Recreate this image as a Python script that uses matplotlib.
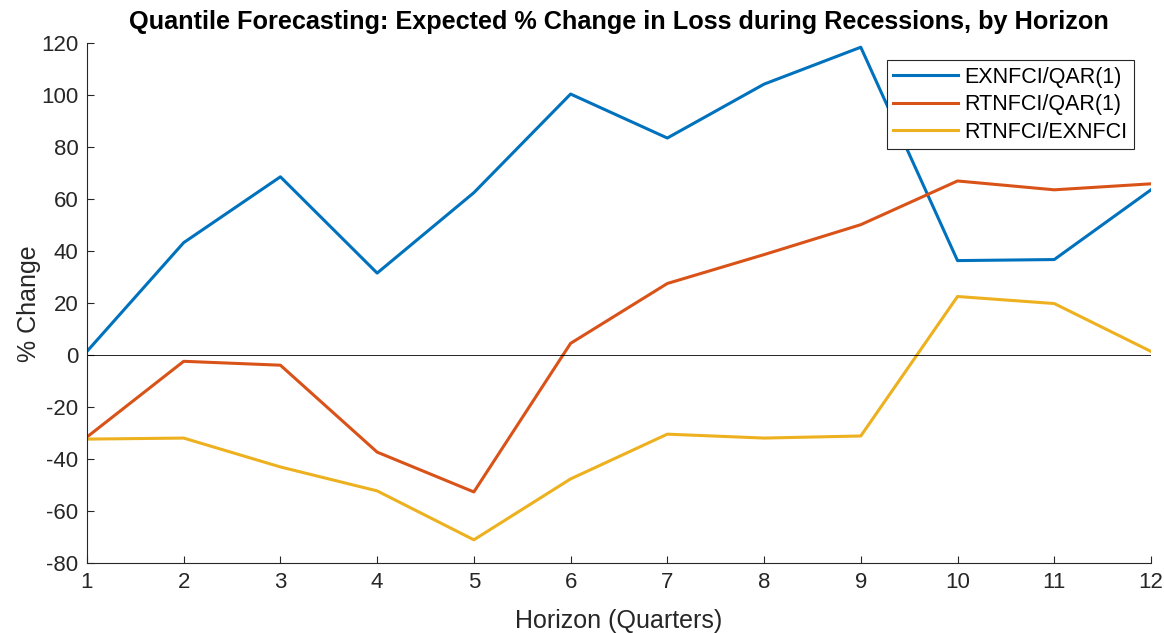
import matplotlib
matplotlib.use('Agg')
import matplotlib.pyplot as plt

plt.rcParams['font.family'] = ['Liberation Sans', 'DejaVu Sans']
plt.rcParams['axes.unicode_minus'] = False

# Data
horizon = [1, 2, 3, 4, 5, 6, 7, 8, 9, 10, 11, 12]
exnfci_qar = [1.5, 43.3, 68.6, 31.6, 62.5, 100.4, 83.5, 104.2, 118.4, 36.4, 36.8, 63.6]
rtnfci_qar = [-31.4, -2.3, -3.8, -37.2, -52.5, 4.6, 27.6, 38.7, 50.2, 67.0, 63.6, 65.9]
rtnfci_exnfci = [-32.2, -31.8, -42.9, -52.1, -70.9, -47.5, -30.3, -31.8, -31.0, 22.6, 19.9, 1.5]

labels = ['EXNFCI/QAR(1)', 'RTNFCI/QAR(1)', 'RTNFCI/EXNFCI']
colors = ['#0072BD', '#D95319', '#EDB120']

fig = plt.figure(figsize=(11.64, 6.33), dpi=100)
ax = fig.add_axes([0.0747, 0.1098, 0.9141, 0.8222])

for y, lab, c in zip([exnfci_qar, rtnfci_qar, rtnfci_exnfci], labels, colors):
    ax.plot(horizon, y, color=c, linewidth=2.2, label=lab)

ax.axhline(0, color='black', linewidth=0.6)

ax.set_xlim(1, 12)
ax.set_ylim(-80, 120)
ax.set_xticks(horizon)
ax.set_yticks(range(-80, 121, 20))
ax.tick_params(direction='in', length=5, labelsize=16, colors='#262626', width=0.8, pad=6)
for s in ['top', 'right']:
    ax.spines[s].set_visible(False)
for s in ['left', 'bottom']:
    ax.spines[s].set_color('#262626')
    ax.spines[s].set_linewidth(0.8)

ax.set_xlabel('Horizon (Quarters)', fontsize=18, color='#262626', labelpad=12)
ax.set_ylabel('% Change', fontsize=18, color='#262626', labelpad=0)
ax.set_title('Quantile Forecasting: Expected % Change in Loss during Recessions, by Horizon',
             fontsize=18.2, fontweight='bold', pad=10)

leg = ax.legend(loc='upper right', bbox_to_anchor=(0.984, 0.967), borderaxespad=0,
                fontsize=15.5, frameon=True, fancybox=False, edgecolor='#262626',
                framealpha=1, handlelength=3, borderpad=0.3, labelspacing=0.3,
                handletextpad=0.3)
leg.get_frame().set_linewidth(0.8)

fig.savefig('out.png', dpi=100)
